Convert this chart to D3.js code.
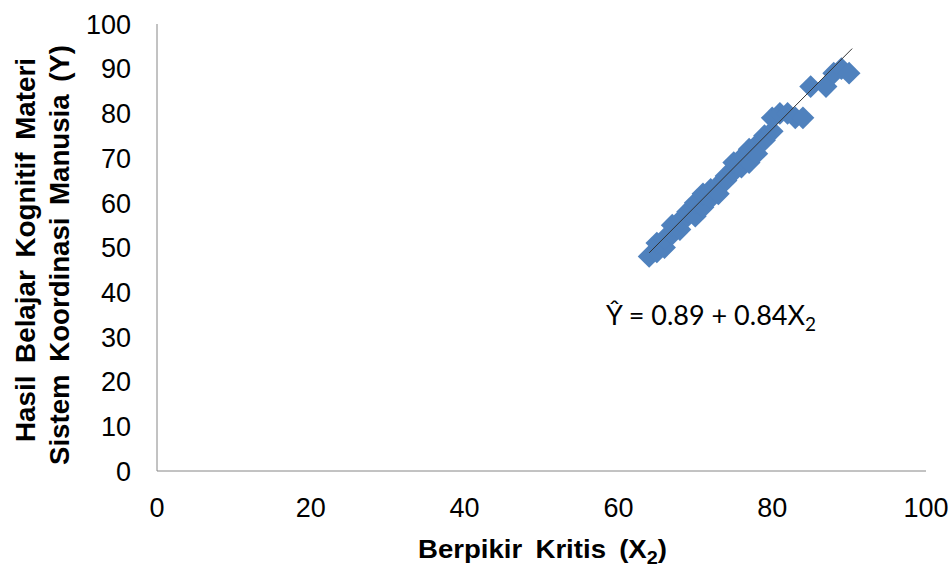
<!DOCTYPE html>
<html><head><meta charset="utf-8">
<script src="https://cdn.jsdelivr.net/npm/d3@7"></script>
<style>body{margin:0;background:#fff} .ttl{word-spacing:5px}</style></head>
<body><svg id="c" width="952" height="568"></svg>
<script>
const xValues = [64,65,65,66,66,67,67,68,68,69,69,70,70,71,71,72,72,73,73,74,74,75,75,76,76,77,77,78,78,79,79,80,80,81,82,83,84,85,87,88,89,90];
const yValues = [48,49,51,50,52,53,55,54,56,57,58,57,60,59,62,61,63,64,62,66,65,67,69,68,70,69,72,73,71,75,74,76,79,80,80,79,79,86,86,89,90,89];
const trendX = [64, 90.4];
const trendY = [48.8, 94.5];
const xTicks = [0,20,40,60,80,100];
const yTicks = [0,10,20,30,40,50,60,70,80,90,100];

const svg = d3.select("#c");
const x = d3.scaleLinear().domain([0,100]).range([157,926]);
const y = d3.scaleLinear().domain([0,100]).range([471,24]);

svg.append("line").attr("x1",x(0)).attr("x2",x(0)).attr("y1",y(100)).attr("y2",y(0)).attr("stroke","#868686").attr("stroke-width",1);
svg.append("line").attr("x1",x(0)).attr("x2",x(100)).attr("y1",y(0)).attr("y2",y(0)).attr("stroke","#868686").attr("stroke-width",1);

svg.selectAll(".yt").data(yTicks).enter().append("text")
  .attr("x",131).attr("y",d=>y(d)).attr("dy","0.36em").attr("text-anchor","end")
  .attr("font-family","Liberation Sans, Arial").attr("font-size",27).attr("fill","#000").text(d=>d);
svg.selectAll(".xt").data(xTicks).enter().append("text")
  .attr("x",d=>x(d)).attr("y",507).attr("dy","0.36em").attr("text-anchor","middle")
  .attr("font-family","Liberation Sans, Arial").attr("font-size",27).attr("fill","#000").text(d=>d);

const pts = xValues.map((v,i)=>[v,yValues[i]]);
svg.selectAll(".p").data(pts).enter().append("path")
  .attr("d", d3.symbol().type(d3.symbolSquare).size(260))
  .attr("transform",d=>`translate(${x(d[0])},${y(d[1])}) rotate(45)`)
  .attr("fill","#4F81BD");

svg.append("line").attr("x1",x(trendX[0])).attr("y1",y(trendY[0])).attr("x2",x(trendX[1])).attr("y2",y(trendY[1]))
  .attr("stroke","#333").attr("stroke-width",1);

const eq = svg.append("text").attr("x",606).attr("y",325).attr("font-family","Lato, Open Sans, sans-serif").attr("font-size",27).attr("fill","#000");
eq.append("tspan").text("Ŷ = 0.89 + 0.84X");
eq.append("tspan").attr("dy",6).attr("font-size",19).text("2");

const xt = svg.append("text").attr("class","ttl").attr("x",418).attr("y",558)
  .attr("font-family","Liberation Sans, Arial").attr("font-weight","bold").attr("font-size",25).attr("fill","#000")
  .attr("textLength",249).attr("lengthAdjust","spacingAndGlyphs");
xt.append("tspan").text("Berpikir Kritis (X");
xt.append("tspan").attr("dy",6).attr("font-size",18).text("2");
xt.append("tspan").attr("dy",-6).text(")");

const yt = svg.append("g").attr("transform","rotate(-90)");
yt.append("text").attr("class","ttl").attr("x",-442).attr("y",35)
  .attr("font-family","Liberation Sans, Arial").attr("font-weight","bold").attr("font-size",28).attr("fill","#000")
  .attr("textLength",384).attr("lengthAdjust","spacingAndGlyphs")
  .text("Hasil Belajar Kognitif Materi");
yt.append("text").attr("class","ttl").attr("x",-465).attr("y",69)
  .attr("font-family","Liberation Sans, Arial").attr("font-weight","bold").attr("font-size",28).attr("fill","#000")
  .attr("textLength",420).attr("lengthAdjust","spacingAndGlyphs")
  .text("Sistem Koordinasi Manusia (Y)");
</script></body></html>
